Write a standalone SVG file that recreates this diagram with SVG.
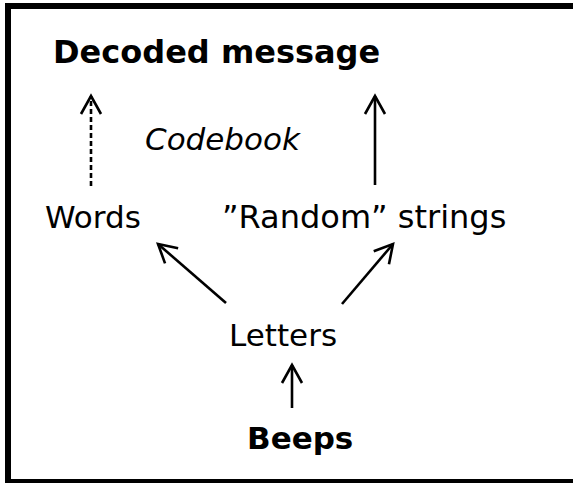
<svg xmlns="http://www.w3.org/2000/svg" width="573" height="483" viewBox="0 0 573 483">
<defs>
<style>
text{font-family:"DejaVu Sans",Verdana,sans-serif;font-size:31px;fill:#000}
.b{font-weight:bold}
.i{font-style:italic}
.l{font-size:32px}
.c{stroke:#000;stroke-width:2.6;fill:none}
.d{stroke-dasharray:5,3}
</style>
<marker id="ah" viewBox="-21 -12 24 24" markerWidth="24" markerHeight="24" refX="0" refY="0" orient="auto" markerUnits="userSpaceOnUse">
<path d="M-18,-10 L0,0 L-18,10" fill="none" stroke="#000" stroke-width="2.6"/>
</marker>
</defs>
<rect x="0" y="0" width="573" height="483" fill="#fff"/>
<rect x="8" y="6" width="575" height="476" fill="none" stroke="#000" stroke-width="6"/>
<g id="decoded"><text class="b l" x="53" y="63">Decoded message</text></g>
<g id="codebook"><text class="i" x="145" y="150">Codebook</text></g>
<g id="words"><text x="45" y="228">Words</text></g>
<g id="random"><text class="l" x="222" y="228">”Random” strings</text></g>
<g id="letters"><text x="229" y="346">Letters</text></g>
<g id="beeps"><text class="b" x="247" y="449">Beeps</text></g>
<g id="connectors">
<line class="c d" x1="91" y1="186" x2="91" y2="96" marker-end="url(#ah)"/>
<line class="c" x1="375" y1="185" x2="375" y2="96" marker-end="url(#ah)"/>
<line class="c" x1="226" y1="303" x2="158" y2="244" marker-end="url(#ah)"/>
<line class="c" x1="342" y1="304" x2="393" y2="244" marker-end="url(#ah)"/>
<line class="c" x1="292" y1="408" x2="292" y2="365" marker-end="url(#ah)"/>
</g>
</svg>
